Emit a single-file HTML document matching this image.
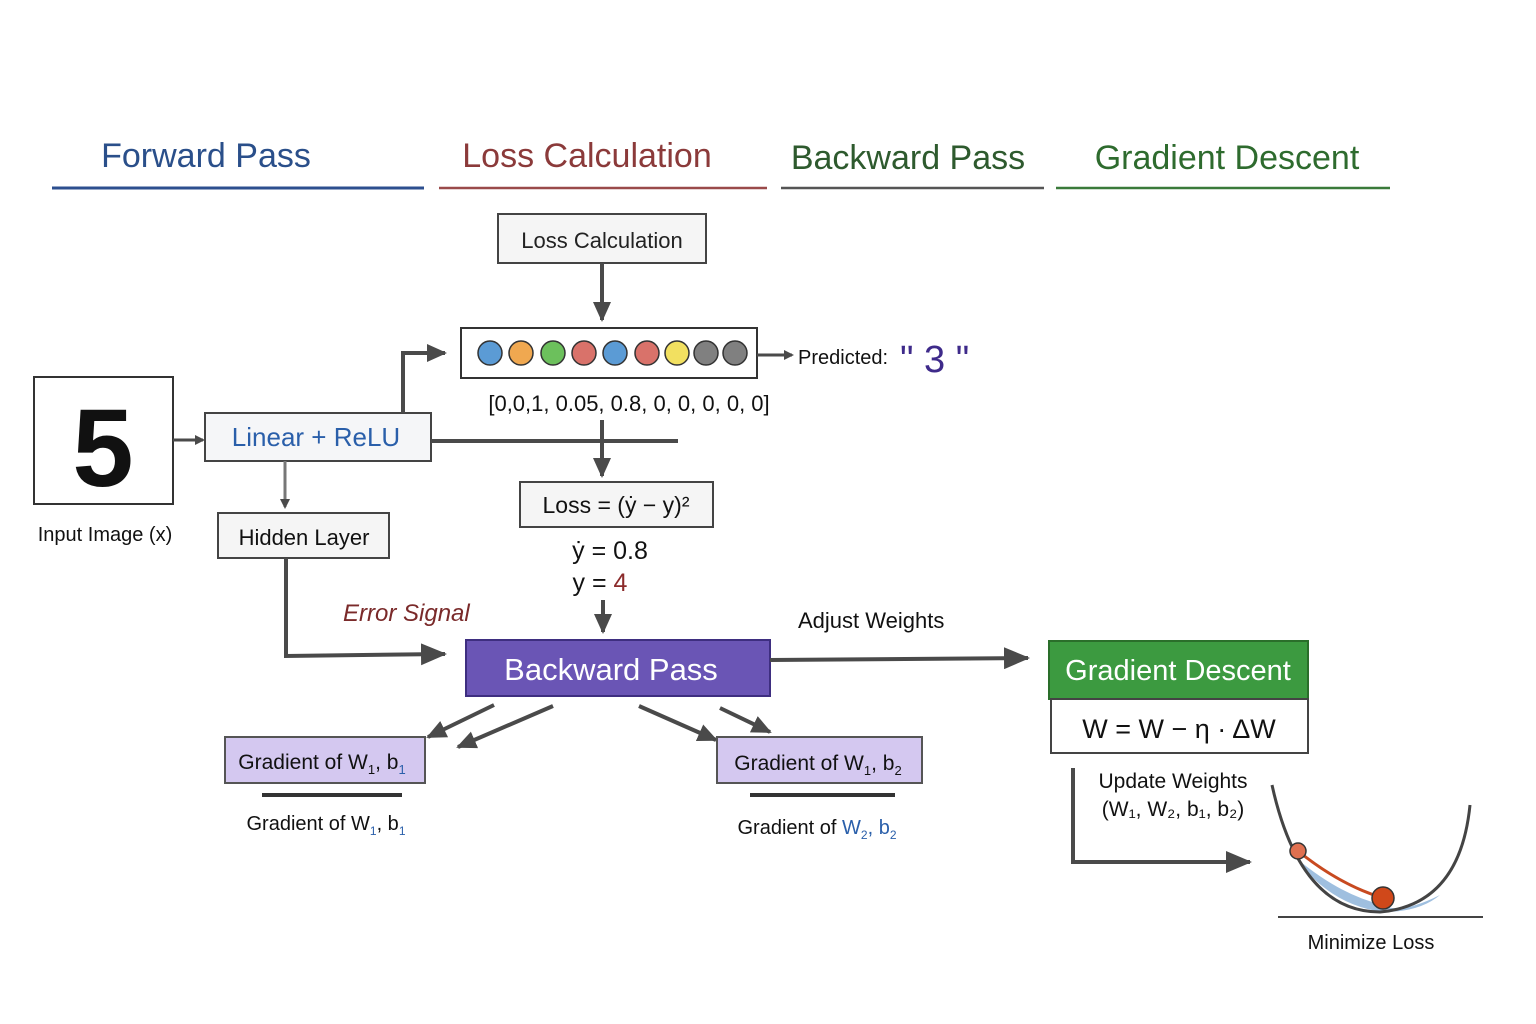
<!DOCTYPE html>
<html><head><meta charset="utf-8"><style>
html,body{margin:0;padding:0;background:#fff}
svg{display:block}
text{font-family:"Liberation Sans",sans-serif}
</style></head><body>
<svg width="1536" height="1024" viewBox="0 0 1536 1024" xmlns="http://www.w3.org/2000/svg">
<defs>
<marker id="ah" markerWidth="10" markerHeight="10" refX="8" refY="5" orient="auto" markerUnits="userSpaceOnUse"><path d="M0,0 L10,5 L0,10 z" fill="#4a4a4a"/></marker>
<marker id="ahb" markerWidth="26" markerHeight="22" refX="24" refY="11" orient="auto" markerUnits="userSpaceOnUse"><path d="M0,0 L26,11 L0,22 z" fill="#4a4a4a"/></marker>
<marker id="ahm" markerWidth="20" markerHeight="18" refX="18" refY="9" orient="auto" markerUnits="userSpaceOnUse"><path d="M0,0 L20,9 L0,18 z" fill="#4a4a4a"/></marker>
</defs>
<!-- headers -->
<text x="206" y="167" font-size="34" fill="#2a4f8a" text-anchor="middle">Forward Pass</text>
<line x1="52" y1="188" x2="424" y2="188" stroke="#2d4f8f" stroke-width="3"/>
<text x="587" y="167" font-size="34" fill="#8b3a3a" text-anchor="middle">Loss Calculation</text>
<line x1="439" y1="188" x2="767" y2="188" stroke="#9a4a4a" stroke-width="2.5"/>
<text x="908" y="169" font-size="34" fill="#2e5a2e" text-anchor="middle">Backward Pass</text>
<line x1="781" y1="188" x2="1044" y2="188" stroke="#555" stroke-width="2.5"/>
<text x="1227" y="169" font-size="34" fill="#2e6b2e" text-anchor="middle">Gradient Descent</text>
<line x1="1056" y1="188" x2="1390" y2="188" stroke="#3a7a3a" stroke-width="2.5"/>

<!-- loss calc box -->
<rect x="498" y="214" width="208" height="49" fill="#f5f5f5" stroke="#444" stroke-width="2"/>
<text x="602" y="248" font-size="22" text-anchor="middle" fill="#222">Loss Calculation</text>
<line x1="602" y1="263" x2="602" y2="320" stroke="#4a4a4a" stroke-width="4" marker-end="url(#ahm)"/>

<!-- circles -->
<rect x="461" y="328" width="296" height="50" fill="#fff" stroke="#333" stroke-width="2"/>
<g stroke="#333" stroke-width="1.5">
<circle cx="490" cy="353" r="12" fill="#5b9bd5"/>
<circle cx="521" cy="353" r="12" fill="#f0a850"/>
<circle cx="553" cy="353" r="12" fill="#6cc05c"/>
<circle cx="584" cy="353" r="12" fill="#d9726a"/>
<circle cx="615" cy="353" r="12" fill="#5b9bd5"/>
<circle cx="647" cy="353" r="12" fill="#d9726a"/>
<circle cx="677" cy="353" r="12" fill="#f2e060"/>
<circle cx="706" cy="353" r="12" fill="#808080"/>
<circle cx="735" cy="353" r="12" fill="#808080"/>
</g>
<line x1="757" y1="355" x2="792" y2="355" stroke="#4a4a4a" stroke-width="3" marker-end="url(#ah)"/>
<text x="798" y="364" font-size="20" fill="#111">Predicted:</text>
<text x="900" y="372" font-size="38" fill="#3e2a8a">" 3 "</text>
<text x="629" y="411" font-size="22" text-anchor="middle" fill="#111">[0,0,1, 0.05, 0.8, 0, 0, 0, 0, 0]</text>

<!-- input image -->
<rect x="34" y="377" width="139" height="127" fill="#fff" stroke="#333" stroke-width="2"/>
<text x="103" y="486" font-size="110" font-weight="bold" text-anchor="middle" fill="#111">5</text>
<text x="105" y="541" font-size="20" text-anchor="middle" fill="#111">Input Image (x)</text>
<line x1="173" y1="440" x2="203" y2="440" stroke="#4a4a4a" stroke-width="3" marker-end="url(#ah)"/>

<!-- linear relu -->
<rect x="205" y="413" width="226" height="48" fill="#f5f6f8" stroke="#444" stroke-width="2"/>
<text x="316" y="446" font-size="26" text-anchor="middle" fill="#2a5faa">Linear + ReLU</text>
<polyline points="403,413 403,353 445,353" fill="none" stroke="#4a4a4a" stroke-width="4" marker-end="url(#ahm)"/>
<line x1="431" y1="441" x2="678" y2="441" stroke="#4a4a4a" stroke-width="4"/>
<line x1="602" y1="420" x2="602" y2="476" stroke="#4a4a4a" stroke-width="4" marker-end="url(#ahm)"/>
<line x1="285" y1="461" x2="285" y2="507" stroke="#777" stroke-width="3" marker-end="url(#ah)"/>

<!-- loss formula -->
<rect x="520" y="482" width="193" height="45" fill="#f5f5f5" stroke="#444" stroke-width="2"/>
<text x="616" y="513" font-size="23" text-anchor="middle" fill="#111">Loss = (ẏ − y)²</text>
<text x="610" y="559" font-size="25" text-anchor="middle" fill="#111">ẏ = 0.8</text>
<text x="600" y="591" font-size="25" text-anchor="middle" fill="#111">y = <tspan fill="#8b2a2a">4</tspan></text>
<line x1="603" y1="600" x2="603" y2="632" stroke="#4a4a4a" stroke-width="4" marker-end="url(#ahm)"/>

<!-- hidden layer -->
<rect x="218" y="513" width="171" height="45" fill="#f5f5f5" stroke="#444" stroke-width="2"/>
<text x="304" y="545" font-size="22" text-anchor="middle" fill="#111">Hidden Layer</text>
<polyline points="286,558 286,656 445,654" fill="none" stroke="#4a4a4a" stroke-width="4" marker-end="url(#ahb)"/>
<text x="343" y="621" font-size="24" font-style="italic" fill="#7a2a2a">Error Signal</text>

<!-- backward pass -->
<rect x="466" y="640" width="304" height="56" fill="#6a55b5" stroke="#3e2e80" stroke-width="2"/>
<text x="611" y="680" font-size="31" text-anchor="middle" fill="#fff">Backward Pass</text>
<line x1="770" y1="660" x2="1028" y2="658" stroke="#4a4a4a" stroke-width="4" marker-end="url(#ahb)"/>
<text x="798" y="628" font-size="22" fill="#111">Adjust Weights</text>

<!-- gradient arrows -->
<g stroke="#4a4a4a" stroke-width="4">
<line x1="494" y1="705" x2="428" y2="737" marker-end="url(#ahm)"/>
<line x1="553" y1="706" x2="458" y2="747" marker-end="url(#ahm)"/>
<line x1="639" y1="706" x2="716" y2="740" marker-end="url(#ahm)"/>
<line x1="720" y1="708" x2="770" y2="732" marker-end="url(#ahm)"/>
</g>
<rect x="225" y="737" width="200" height="46" fill="#d4c8f0" stroke="#555" stroke-width="2"/>
<text x="322" y="769" font-size="21" text-anchor="middle" fill="#111">Gradient of W<tspan font-size="13" dy="5">1</tspan><tspan dy="-5">, b</tspan><tspan font-size="13" dy="5" fill="#2a5faa">1</tspan></text>
<rect x="717" y="737" width="205" height="46" fill="#d4c8f0" stroke="#555" stroke-width="2"/>
<text x="818" y="770" font-size="21" text-anchor="middle" fill="#111">Gradient of W<tspan font-size="13" dy="5">1</tspan><tspan dy="-5">, b</tspan><tspan font-size="13" dy="5">2</tspan></text>
<g fill="#333"><rect x="262" y="793" width="140" height="4"/><rect x="750" y="793" width="145" height="4"/></g>
<text x="326" y="830" font-size="20" text-anchor="middle" fill="#111">Gradient of W<tspan font-size="12" dy="5" fill="#2a5faa">1</tspan><tspan dy="-5">, b</tspan><tspan font-size="12" dy="5" fill="#2a5faa">1</tspan></text>
<text x="817" y="834" font-size="20" text-anchor="middle" fill="#111">Gradient of <tspan fill="#2a5faa">W</tspan><tspan font-size="12" dy="5" fill="#2a5faa">2</tspan><tspan dy="-5" fill="#2a5faa">, b</tspan><tspan font-size="12" dy="5" fill="#2a5faa">2</tspan></text>

<!-- gradient descent -->
<rect x="1049" y="641" width="259" height="58" fill="#3c9a40" stroke="#2a6e2a" stroke-width="2"/>
<text x="1178" y="680" font-size="29" text-anchor="middle" fill="#fff">Gradient Descent</text>
<rect x="1051" y="699" width="257" height="54" fill="#fff" stroke="#444" stroke-width="2"/>
<text x="1179" y="738" font-size="27" text-anchor="middle" fill="#111">W = W − η · ΔW</text>
<text x="1173" y="788" font-size="21" text-anchor="middle" fill="#111">Update Weights</text>
<text x="1173" y="816" font-size="21" text-anchor="middle" fill="#111">(W₁, W₂, b₁, b₂)</text>
<polyline points="1073,768 1073,862 1250,862" fill="none" stroke="#4a4a4a" stroke-width="4" marker-end="url(#ahb)"/>

<!-- parabola -->
<path d="M1296,858 Q1330,905 1383,912 Q1420,912 1440,895 Q1400,915 1383,905 Q1340,895 1296,858 z" fill="#9fbfdf"/>
<path d="M1272,785 Q1300,912 1380,912 Q1460,905 1470,805" fill="none" stroke="#444" stroke-width="3"/>
<path d="M1298,851 Q1340,885 1383,898" fill="none" stroke="#c84a20" stroke-width="3"/>
<line x1="1278" y1="917" x2="1483" y2="917" stroke="#444" stroke-width="2"/>
<circle cx="1298" cy="851" r="8" fill="#e07050" stroke="#333" stroke-width="1.5"/>
<circle cx="1383" cy="898" r="11" fill="#d0481a" stroke="#333" stroke-width="1.5"/>
<text x="1371" y="949" font-size="20" text-anchor="middle" fill="#111">Minimize Loss</text>
</svg>
</body></html>
